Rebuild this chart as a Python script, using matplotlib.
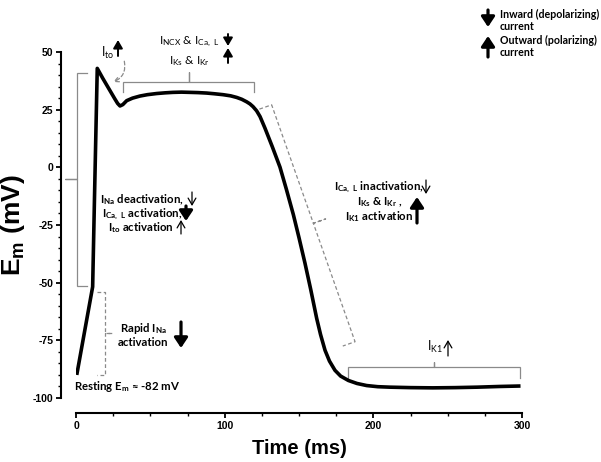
import numpy as np
import matplotlib
matplotlib.use('Agg')
import matplotlib.pyplot as plt
from matplotlib.patches import FancyArrowPatch

plt.rcParams['font.family'] = ['Lato', 'DejaVu Sans']
plt.rcParams['mathtext.default'] = 'regular'
plt.rcParams['axes.unicode_minus'] = False

# ventricular action potential
time_ms = [0.5, 11.2, 12.4, 14.3, 18, 22, 26, 28, 29.6, 31.5, 34.1, 38, 43, 48,
           54.3, 60, 65.2, 71, 76.7, 82, 87.9, 93, 98.9, 104, 108.1, 111.5,
           114.8, 117, 119.1, 121.5, 123.8, 127.1, 132, 137.2, 141.5, 146.2,
           150, 154, 157.9, 161.9, 164.5, 167.5, 170.5, 174.2, 178, 183.2,
           189, 195.5, 203, 211, 225, 240, 255, 270, 285, 299]
em_mv = [-90, -51.8, -14.4, 42.9, 38.6, 34.2, 29.8, 27.7, 26.6, 27.2, 28.9,
         30.0, 30.9, 31.5, 32.0, 32.3, 32.5, 32.6, 32.5, 32.4, 32.2, 31.9,
         31.5, 31.0, 30.3, 29.5, 28.4, 27.5, 26.3, 24.5, 22.0, 17.0, 9.0,
         0.1, -9.5, -20.5, -30.5, -41.5, -53.0, -65.5, -72.5, -79.3, -84.0,
         -88.0, -90.5, -92.4, -93.7, -94.6, -95.1, -95.3, -95.5, -95.6,
         -95.5, -95.3, -95.0, -94.8]

x_ticks = [0, 100, 200, 300]
y_ticks = [-100, -75, -50, -25, 0, 25, 50]

W, H = 601, 462
fig = plt.figure(figsize=(W / 100, H / 100), dpi=100)
ax = fig.add_axes([76 / W, 1 - 398 / H, 446 / W, 346 / H])

ax.plot(time_ms, em_mv, color='black', lw=2.6, solid_joinstyle='round',
        solid_capstyle='butt', zorder=5)
ax.set_xlim(0, 300)
ax.set_ylim(-100, 50)

for side in ['top', 'right']:
    ax.spines[side].set_visible(False)
ax.spines['left'].set_position(('outward', 10.8))
ax.spines['bottom'].set_position(('outward', 10.8))
ax.spines['left'].set_linewidth(1.5)
ax.spines['bottom'].set_linewidth(1.5)
ax.set_xticks(x_ticks)
ax.set_yticks(y_ticks)
ax.set_xticks(np.arange(0, 301, 25), minor=True)
ax.set_yticks(np.arange(-100, 51, 5), minor=True)
ax.tick_params(which='major', length=3.6, width=1.3, pad=2, labelsize=7.5)
ax.tick_params(which='minor', length=2.2, width=1.0)
for lab in ax.get_xticklabels() + ax.get_yticklabels():
    lab.set_fontweight('bold')
    lab.set_family(['Liberation Sans', 'DejaVu Sans'])

ax.set_xlabel('Time (ms)', fontsize=14.5, fontweight='bold',
              family=['Liberation Sans', 'DejaVu Sans'], labelpad=6)
ax.set_ylabel('E$_m$ (mV)', fontsize=19, fontweight='bold',
              family=['Liberation Sans', 'DejaVu Sans'], labelpad=4)

GRAY = '#8a8a8a'


def bracket(p0, p1, tip, nub, dashed=False):
    tr = ax.transData
    a = tr.transform(p0)
    b = tr.transform(p1)
    d = b - a
    n = np.array([-d[1], d[0]]) / np.hypot(*d)
    m = (a + b) / 2
    pts = np.array([a + n * tip, a, m, m + n * nub, m, b, b + n * tip])
    pts = tr.inverted().transform(pts)
    ax.plot(pts[:, 0], pts[:, 1], color=GRAY, lw=0.9, clip_on=False,
            ls=(0, (3, 2)) if dashed else '-', solid_joinstyle='miter')


bracket((0.7, 41), (0.7, -51.5), 10, -12)
bracket((19.5, -54), (19.5, -90), -8, 7, dashed=True)
bracket((31.5, 36.8), (120, 36.8), -10, 10)
bracket((131.6, 27.1), (187.7, -75.6), -13, 13, dashed=True)
bracket((183, -86.6), (298.7, -86.6), -11, 5)

ax.add_patch(FancyArrowPatch((32.5, 46), (25, 37), connectionstyle='arc3,rad=-0.4',
                             arrowstyle='->', mutation_scale=8, color=GRAY, lw=0.9,
                             ls=(0, (3, 2)), clip_on=False, shrinkA=0, shrinkB=0))


def px(x, y):
    return (x / W, 1 - y / H)


def arrow(x, y_tail, y_head, kind='thin'):
    styles = {
        'thin': dict(arrowstyle='->,head_width=0.35,head_length=0.6', lw=0.9, mutation_scale=8),
        'mid': dict(arrowstyle='-|>,head_width=0.35,head_length=0.6', lw=1.4, mutation_scale=8),
        'bold': dict(arrowstyle='-|>,head_width=0.4,head_length=0.6', lw=2.3, mutation_scale=10),
    }
    fig.add_artist(FancyArrowPatch(px(x, y_tail), px(x, y_head), transform=fig.transFigure,
                                   color='black', shrinkA=0, shrinkB=0, **styles[kind]))


def label(x, y, s, size=8.2, weight='bold', ha='center'):
    fig.text(*px(x, y), s, ha=ha, va='center', fontsize=size, fontweight=weight)


# legend, top right
arrow(488, 10, 27, 'bold')
arrow(488, 57, 36, 'bold')
label(500, 14, 'Inward (depolarizing)', 7.7, 'bold', 'left')
label(500, 26, 'current', 7.7, 'bold', 'left')
label(500, 40, 'Outward (polarizing)', 7.7, 'bold', 'left')
label(500, 52, 'current', 7.7, 'bold', 'left')

# early repolarization
label(108, 53, 'I$_{to}$', 9, 'normal')
arrow(118, 56, 40, 'mid')

# plateau
label(189.5, 42, 'I$_{NCX}$ & I$_{Ca,\\ L}$', 8.5, 'normal')
label(189.5, 61, 'I$_{Ks}$ & I$_{Kr}$', 8.5, 'normal')
arrow(228, 34, 46, 'mid')
arrow(228, 63, 48, 'mid')

# upstroke
label(142, 200, 'I$_{Na}$ deactivation,')
label(142, 214, 'I$_{Ca,\\ L}$ activation,')
label(141, 228, 'I$_{to}$ activation')
arrow(192, 192, 206, 'thin')
arrow(186, 206, 221, 'bold')
arrow(181, 234, 220, 'thin')

# phase 0
label(143, 329, 'Rapid I$_{Na}$')
label(143, 343, 'activation')
arrow(181, 322, 348, 'bold')
label(127, 387, 'Resting E$_m$ ≈ -82 mV')

# phase 3
label(378.5, 187, 'I$_{Ca,\\ L}$ inactivation,')
label(380, 202, 'I$_{Ks}$ & I$_{Kr}$ ,')
label(379.5, 217, 'I$_{K1}$ activation')
arrow(426, 180, 194, 'thin')
arrow(417, 223, 197, 'bold')

# phase 4
label(435, 347, 'I$_{K1}$', 9, 'normal')
arrow(448, 356, 340, 'thin')

fig.savefig('out.png', dpi=100)
